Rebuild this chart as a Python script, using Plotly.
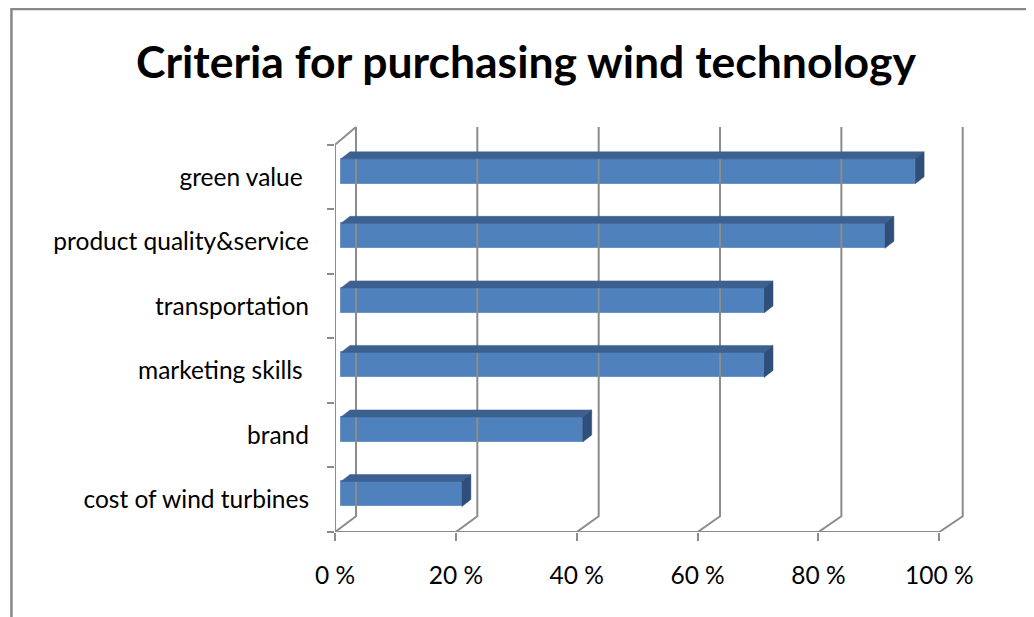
import plotly.graph_objects as go

# ---- data (bottom to top) ----
categories = ["cost of wind turbines", "brand", "marketing skills ", "transportation",
              "product quality&service", "green value "]
values = [20, 40, 70, 70, 90, 95]
x_ticks = [0, 20, 40, 60, 80, 100]
x_tick_labels = ["0 %", "20 %", "40 %", "60 %", "80 %", "100 %"]
title_text = "Criteria for purchasing wind technology"

# ---- geometry (pixels, page offset of 8px compensated) ----
OFF = 8
W, H = 1034, 617
PX_X = 6.046            # pixels per percent
PX_Y = 64.5             # pixels per category
L = 334.7 - OFF         # pixel of 0 %
B = 531.7 - OFF         # pixel of bottom boundary
R = 990.0 - OFF
Y_TOP = 5.9
T = B - (Y_TOP + 0.5) * PX_Y

FONT = "Lato"
GRID = "#8c8c8c"
FRONT = "#4f81bd"
TOPF = "#3c6191"
SIDE = "#2f4e79"

n = len(categories)


def back_x(t):
    return (355.7 - 334.7 + t * 6.07) / PX_X


yb_bot = -0.5 + 15.7 / PX_Y
yb_top = (531.7 - 127) / PX_Y - 0.5

# walls / gridlines
gx, gy = [], []
for t in x_ticks:
    gx += [t, back_x(t), back_x(t), None]
    gy += [-0.5, yb_bot, yb_top, None]
gx += [0, 0, back_x(0), None, 0, x_ticks[-1], None]
gy += [-0.5, n - 0.5, yb_top, None, -0.5, -0.5, None]

fig = go.Figure()
fig.add_trace(go.Scatter(x=gx, y=gy, mode="lines", line=dict(color=GRID, width=2),
                         hoverinfo="skip", showlegend=False))

# bars (front face sits slightly behind the front plane: right and up)
bdx = 6 / PX_X
bdy = 5.75 / PX_Y
half = 12.5 / PX_Y
ddx = 9 / PX_X
ddy = 7 / PX_Y
ys = [i + bdy for i in range(n)]

fig.add_trace(go.Bar(orientation="h", x=values, y=ys, base=bdx, width=2 * half,
                     marker=dict(color=FRONT, line=dict(color="#6b93c6", width=1)),
                     hoverinfo="skip", showlegend=False))

for v, yc in zip(values, ys):
    x0, x1 = bdx, bdx + v
    ytop, ybot = yc + half, yc - half
    fig.add_trace(go.Scatter(
        x=[x0, x1, x1 + ddx, x0 + ddx, x0], y=[ytop, ytop, ytop + ddy, ytop + ddy, ytop],
        mode="lines", fill="toself", fillcolor=TOPF, line=dict(color=TOPF, width=0.5),
        hoverinfo="skip", showlegend=False))
    fig.add_trace(go.Scatter(
        x=[x1, x1 + ddx, x1 + ddx, x1, x1], y=[ybot, ybot + ddy, ytop + ddy, ytop, ybot],
        mode="lines", fill="toself", fillcolor=SIDE, line=dict(color=SIDE, width=0.5),
        hoverinfo="skip", showlegend=False))


def px_paper(px):
    return (px - OFF - L) / (R - L)


def py_paper(py):
    return (B - (py - OFF)) / (B - T)


fig.update_layout(
    width=W, height=H,
    margin=dict(l=L, r=W - R, t=T, b=H - B, pad=0),
    paper_bgcolor="white", plot_bgcolor="white",
    showlegend=False, bargap=0,
    font=dict(family=FONT, color="black"),
    title=dict(text="<b>" + title_text + "</b>", x=(526 - OFF) / W, xanchor="center",
               y=1 - (62 - OFF) / H, yanchor="middle", xref="container", yref="container",
               font=dict(family=FONT, size=44.5, color="black")),
    xaxis=dict(range=[0, (R - L) / PX_X], showgrid=False, zeroline=False, showline=False,
               tickmode="array", tickvals=x_ticks, ticktext=x_tick_labels,
               ticks="outside", ticklen=8, tickwidth=2, tickcolor=GRID,
               tickfont=dict(family=FONT, size=24.5, color="black"), ticklabelstandoff=14),
    yaxis=dict(range=[-0.5, Y_TOP], showgrid=False, zeroline=False, showline=False,
               tickmode="array", tickvals=list(range(n)),
               ticktext=[c.rstrip() + ("\u00a0" if c.endswith(" ") else "") for c in categories],
               ticks="", tickfont=dict(family=FONT, size=24.5, color="black"),
               ticklabelstandoff=25,
               minor=dict(tickmode="array", tickvals=[i - 0.5 for i in range(n + 1)],
                          ticks="outside", ticklen=7, tickwidth=2, tickcolor=GRID)),
    shapes=[dict(type="rect", xref="paper", yref="paper", layer="below",
                 x0=px_paper(11), x1=px_paper(1045), y0=py_paper(630), y1=py_paper(9),
                 line=dict(color="#888888", width=2.5), fillcolor="rgba(0,0,0,0)")],
)

fig.write_html("out.html")
